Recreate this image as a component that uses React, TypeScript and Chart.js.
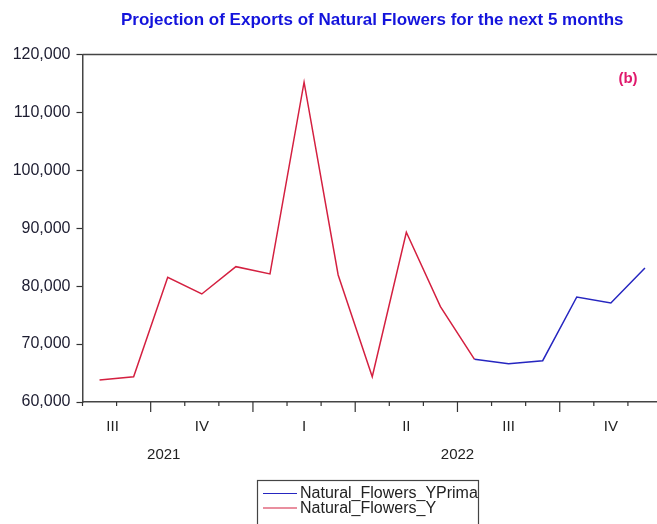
import React, { useEffect, useRef } from "react";
import { Chart, registerables } from "chart.js";

Chart.register(...registerables);

const FONT = "'Liberation Sans', Arial, sans-serif";

const titleText = "Projection of Exports of Natural Flowers for the next 5 months";
const panelLabel = "(b)";

const months = [
  "2021-08", "2021-09", "2021-10", "2021-11", "2021-12",
  "2022-01", "2022-02", "2022-03", "2022-04", "2022-05", "2022-06",
  "2022-07", "2022-08", "2022-09", "2022-10", "2022-11", "2022-12",
];

const naturalFlowersY = [
  63800, 64370, 81540, 78650, 83370, 82110, 115220, 81930, 64370, 89310, 76460, 67370,
  null, null, null, null, null,
];

const naturalFlowersYPrima = [
  null, null, null, null, null, null, null, null, null, null, null,
  67370, 66600, 67130, 78130, 77100, 83140,
];

const yMin = 60000;
const yMax = 120000;
const yStep = 10000;

const quarterNames = ["I", "II", "III", "IV"];

function monthAt(i: number) {
  const [y, m] = months[0].split("-").map(Number);
  const t = y * 12 + (m - 1) + i;
  return { year: Math.floor(t / 12), month: (t % 12) + 1 };
}

const axisPlugin = {
  id: "eviewsAxis",
  afterDraw(chart: any) {
    const { ctx, chartArea, scales } = chart;
    const x = scales.x;
    ctx.save();
    // frame top/right
    ctx.strokeStyle = "#444";
    ctx.lineWidth = 1.5;
    ctx.beginPath();
    ctx.moveTo(chartArea.left, chartArea.top);
    ctx.lineTo(chartArea.right, chartArea.top);
    ctx.lineTo(chartArea.right, chartArea.bottom);
    ctx.stroke();

    // x ticks at month boundaries
    ctx.lineWidth = 1.2;
    ctx.strokeStyle = "#333";
    for (let i = 0; i <= months.length; i++) {
      const px = x.getPixelForValue(i - 0.5);
      const m = monthAt(i).month;
      const major = (m - 1) % 3 === 0;
      const len = major ? 10 : 4;
      ctx.beginPath();
      ctx.moveTo(px, chartArea.bottom);
      ctx.lineTo(px, chartArea.bottom + len);
      ctx.stroke();
    }

    // quarter and year labels
    const quarters: { key: string; q: number; first: number; last: number }[] = [];
    const years: { year: number; first: number; last: number }[] = [];
    for (let i = 0; i < months.length; i++) {
      const { year, month } = monthAt(i);
      const q = Math.floor((month - 1) / 3);
      const key = year + "Q" + q;
      const lq = quarters[quarters.length - 1];
      if (lq && lq.key === key) lq.last = i;
      else quarters.push({ key, q, first: i, last: i });
      const ly = years[years.length - 1];
      if (ly && ly.year === year) ly.last = i;
      else years.push({ year, first: i, last: i });
    }
    ctx.fillStyle = "#222";
    ctx.textAlign = "center";
    ctx.textBaseline = "middle";
    ctx.font = `15px ${FONT}`;
    quarters.forEach((g) => {
      const c = (x.getPixelForValue(g.first - 0.5) + x.getPixelForValue(g.last + 0.5)) / 2;
      ctx.fillText(quarterNames[g.q], c - (g.first === 0 ? 4 : 0), 427);
    });
    years.forEach((g) => {
      const c = (x.getPixelForValue(g.first - 0.5) + x.getPixelForValue(g.last + 0.5)) / 2;
      ctx.fillText(String(g.year), c - (g.first === 0 ? 4 : 0), 455);
    });

    // panel label
    ctx.font = `bold 15px ${FONT}`;
    ctx.fillStyle = "#e0186c";
    ctx.fillText(panelLabel, 628, 79);

    // legend box
    ctx.strokeStyle = "#444";
    ctx.lineWidth = 1.2;
    ctx.strokeRect(257.5, 480.5, 221, 60);
    ctx.font = `16px ${FONT}`;
    ctx.textAlign = "left";
    chart.data.datasets.forEach((ds: any, k: number) => {
      const yy = 493.5 + k * 14.5;
      ctx.strokeStyle = ds.borderColor;
      ctx.lineWidth = 1.2;
      ctx.beginPath();
      ctx.moveTo(263, yy);
      ctx.lineTo(297, yy);
      ctx.stroke();
      ctx.fillStyle = "#222";
      ctx.fillText(ds.label, 300, yy + 0.5);
    });
    ctx.restore();
  },
};

export default function App() {
  const ref = useRef<HTMLCanvasElement | null>(null);
  useEffect(() => {
    if (!ref.current) return;
    const prevOverflow = document.body.style.overflow;
    document.body.style.overflow = "hidden";
    const chart = new Chart(ref.current, {
      type: "line",
      data: {
        labels: months,
        datasets: [
          {
            label: "Natural_Flowers_YPrima",
            data: naturalFlowersYPrima,
            borderColor: "#2626c0",
            borderWidth: 1.5,
            pointRadius: 0,
            tension: 0,
            spanGaps: false,
          },
          {
            label: "Natural_Flowers_Y",
            data: naturalFlowersY,
            borderColor: "#d42040",
            borderWidth: 1.5,
            pointRadius: 0,
            tension: 0,
            spanGaps: false,
          },
        ],
      },
      options: {
        responsive: false,
        animation: false,
        devicePixelRatio: 1,
        layout: { padding: { left: 0, right: 8, top: 0, bottom: 0 } },
        plugins: {
          legend: { display: false },
          tooltip: { enabled: false },
          title: {
            display: true,
            text: titleText,
            fullSize: false,
            color: "#1414dc",
            font: { family: FONT, size: 17, weight: "bold" },
            padding: { top: 10, bottom: 24.1 },
          },
        },
        scales: {
          x: {
            type: "category",
            offset: true,
            grid: { display: false, drawTicks: false },
            border: { display: true, color: "#444", width: 1.5 },
            ticks: { display: false },
            afterFit: (s: any) => {
              s.height = 122;
            },
          },
          y: {
            min: yMin,
            max: yMax,
            grid: { drawOnChartArea: false, tickLength: 6, tickColor: "#333", tickWidth: 1.2 },
            border: { display: true, color: "#444", width: 1.5 },
            ticks: {
              stepSize: yStep,
              padding: 6,
              color: "#1c1c30",
              font: { family: FONT, size: 16 },
              callback: (v: any) => Number(v).toLocaleString("en-US"),
            },
            afterFit: (s: any) => {
              s.width = 82.5;
            },
          },
        },
      },
      plugins: [axisPlugin],
    });
    return () => {
      chart.destroy();
      document.body.style.overflow = prevOverflow;
    };
  }, []);
  return (
    <div style={{ position: "fixed", left: 0, top: 0, width: 670, height: 524, background: "#fff" }}>
      <canvas ref={ref} width={670} height={524} />
    </div>
  );
}
